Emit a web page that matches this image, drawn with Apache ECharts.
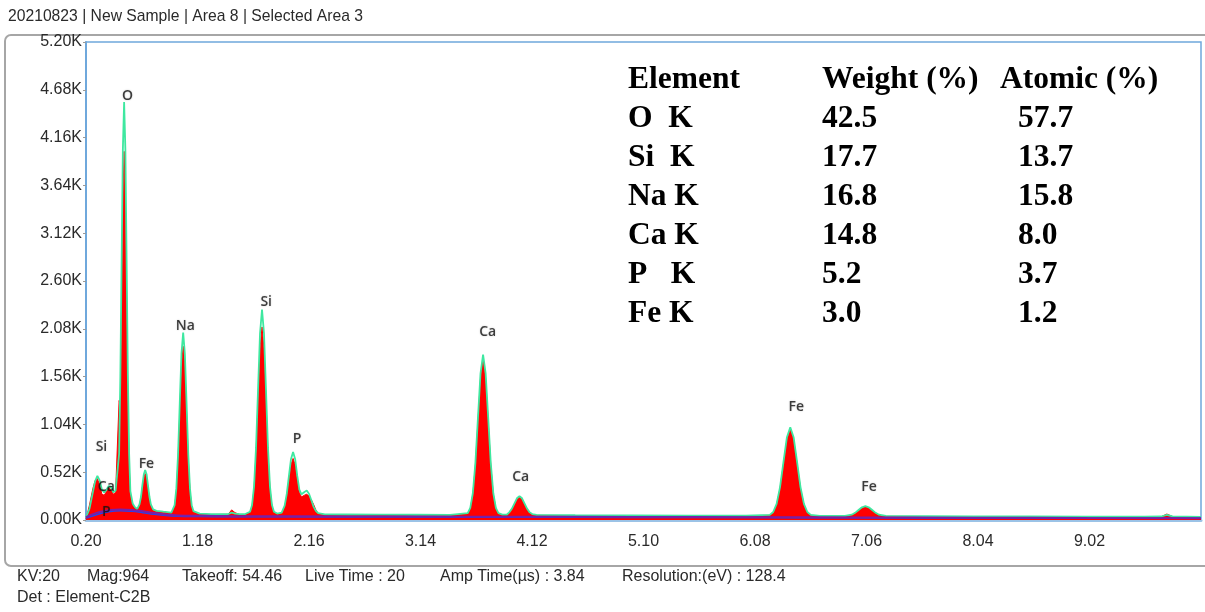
<!DOCTYPE html>
<html>
<head>
<meta charset="utf-8">
<script src="https://cdn.jsdelivr.net/npm/echarts@6/dist/echarts.min.js"></script>
<style>
html,body{margin:0;padding:0;background:#fff;}
#chart{width:1205px;height:612px;}
</style>
</head>
<body>
<div id="chart"></div>
<script>
// ---- DATA ----
const energies = [0.20,0.23,0.26,0.28,0.30,0.32,0.34,0.36,0.38,0.40,0.42,0.44,0.46,0.47,0.491,0.502,0.513,0.524,0.535,0.546,0.557,0.568,0.579,0.59,0.61,0.63,0.65,0.67,0.683,0.695,0.708,0.72,0.733,0.745,0.758,0.77,0.79,0.82,0.88,0.95,0.964,0.979,0.994,1.009,1.024,1.039,1.054,1.069,1.084,1.099,1.114,1.129,1.144,1.20,1.30,1.45,1.48,1.51,1.55,1.60,1.642,1.6595,1.677,1.6945,1.712,1.7295,1.747,1.7645,1.782,1.7995,1.817,1.8345,1.852,1.88,1.92,1.946,1.9645,1.983,2.0015,2.02,2.0385,2.057,2.075,2.094,2.12,2.14,2.16,2.18,2.20,2.22,2.24,2.30,2.50,2.80,3.10,3.40,3.555,3.5775,3.60,3.6225,3.645,3.6675,3.69,3.7125,3.735,3.7575,3.78,3.8025,3.825,3.86,3.90,3.92,3.9425,3.965,3.9875,4.01,4.0325,4.055,4.0775,4.10,4.1225,4.16,4.50,5.00,5.50,6.00,6.21,6.24,6.27,6.30,6.33,6.36,6.39,6.42,6.45,6.48,6.51,6.54,6.57,6.65,6.80,6.87,6.93,6.96,6.99,7.02,7.05,7.08,7.11,7.14,7.17,7.23,7.60,8.00,8.50,9.00,9.50,9.65,9.70,9.75,10.0];
const fitCounts = [30,120,300,420,480,430,330,300,330,370,360,300,320,330,720,1560,2810,4030,4546,4030,2810,1560,720,315,180,140,120,170,250,375,494,545,494,375,250,170,115,100,90,80,97,161,341,713,1267,1809,2040,1809,1267,713,341,161,97,70,65,65,80,70,65,65,90,163,366,787,1414,2029,2290,2029,1414,787,366,163,90,70,80,156,284,474,661,740,661,480,330,280,305,320,286,217,146,99,76,62,60,58,57,55,74,132,291,622,1113,1595,1800,1595,1113,622,291,132,74,58,60,83,122,179,236,260,236,179,122,83,64,55,52,50,48,47,56,87,176,358,630,897,1010,897,630,358,176,87,56,45,45,45,58,78,108,138,150,138,108,78,58,44,42,40,38,37,36,38,55,40,35];
const spectrumCounts = [10,160,340,430,450,380,280,270,310,350,330,280,300,320,1300,1250,2400,3500,4010,3500,2400,1300,620,280,160,130,115,160,235,350,460,505,460,350,235,160,110,95,85,75,92,150,315,660,1175,1680,1890,1680,1175,660,315,150,92,65,60,62,110,80,60,60,85,152,340,725,1300,1865,2100,1865,1300,725,340,152,85,65,75,145,260,430,600,670,600,440,300,250,270,280,260,220,170,110,70,58,56,54,53,51,70,125,280,600,1075,1545,1760,1545,1075,600,280,125,70,54,56,78,115,170,225,248,225,170,115,78,60,51,48,46,44,43,52,82,168,345,610,870,985,870,610,345,168,82,52,41,41,41,54,74,103,132,144,132,103,74,54,40,38,36,34,33,32,36,65,38,30];
const bgEnergies = [0.2,0.3,0.4,0.5,0.6,0.7,0.8,0.9,1.0,1.2,1.5,2.0,3.0,4.0,5.0,6.0,7.0,8.0,9.0,10.0];
const bgPurple = [30,80,105,115,110,95,75,60,50,45,42,40,38,35,33,30,28,25,22,20];
const bgBlue = [20,60,90,100,95,80,62,50,42,38,36,34,32,30,28,26,24,22,20,18];
const xTicks = [0.20,1.18,2.16,3.14,4.12,5.10,6.08,7.06,8.04,9.02];
const peakNames = ['O','Fe','Na','Si','P','Ca','Ca','Fe','Fe','Si','Ca','P'];
const peakE = [0.564,0.731,1.073,1.784,2.056,3.731,4.021,6.442,7.083,0.336,0.378,0.378];
const peakC = [4611,610,2115,2366,883,2049,469,1232,360,796,360,90];
const tableHeader = ['Element','Weight (%)','Atomic (%)'];
const tableElements = ['O  K','Si  K','Na K','Ca K','P   K','Fe K'];
const tableWeights = ['42.5','17.7','16.8','14.8','5.2','3.0'];
const tableAtomics = ['57.7','13.7','15.8','8.0','3.7','1.2'];
const titleText = '20210823 | New Sample | Area 8 | Selected Area 3';
const infoItems = ['KV:20','Mag:964','Takeoff: 54.46','Live Time : 20','Amp Time(µs) : 3.84','Resolution:(eV) : 128.4'];
const detText = 'Det : Element-C2B';

// ---- CHART ----
const chart = echarts.init(document.getElementById('chart'), null, {renderer:'canvas'});
const fitData = energies.map((e,i)=>[e, fitCounts[i]]);
const specData = energies.map((e,i)=>[e, spectrumCounts[i]]);
const purpleData = bgEnergies.map((e,i)=>[e, bgPurple[i]]);
const blueData = bgEnergies.map((e,i)=>[e, bgBlue[i]]);
const labelData = peakNames.map((n,i)=>({name:n, value:[peakE[i], peakC[i]]}));

const sansFont = '"Liberation Sans", Arial, sans-serif';
const graphics = [];
graphics.push({type:'rect', z:-10, silent:true, shape:{x:5,y:35,width:1215,height:531,r:6}, style:{fill:'none', stroke:'#a6a6a6', lineWidth:2}});
graphics.push({type:'text', x:8, y:17, style:{text:titleText, font:'15.7px ' + sansFont, fill:'#2a2a2a', verticalAlign:'middle'}});
const infoX = [17,87,182,305,440,622];
infoItems.forEach((t,i)=>graphics.push({type:'text', x:infoX[i], y:577, style:{text:t, font:'16px ' + sansFont, fill:'#2a2a2a', verticalAlign:'middle'}}));
graphics.push({type:'text', x:17, y:598, style:{text:detText, font:'16px ' + sansFont, fill:'#2a2a2a', verticalAlign:'middle'}});
const colX = [628, 822, 1000];
const valX = [628, 822, 1018];
const tFont = 'bold 31.5px "Liberation Serif"';
tableHeader.forEach((t,i)=>graphics.push({type:'text', x:colX[i], y:80, style:{text:t, font:tFont, fill:'#000', verticalAlign:'middle'}}));
tableElements.forEach((t,r)=>{
  const y = 119 + r*39;
  graphics.push({type:'text', x:valX[0], y:y, style:{text:t, font:tFont, fill:'#000', verticalAlign:'middle'}});
  graphics.push({type:'text', x:valX[1], y:y, style:{text:tableWeights[r], font:tFont, fill:'#000', verticalAlign:'middle'}});
  graphics.push({type:'text', x:valX[2], y:y, style:{text:tableAtomics[r], font:tFont, fill:'#000', verticalAlign:'middle'}});
});

const option = {
  animation:false,
  backgroundColor:'#fff',
  grid:{left:86, right:4, top:42, bottom:92, show:true, borderColor:'#6fa8dc', borderWidth:1.5, backgroundColor:'transparent'},
  xAxis:{
    type:'value', min:0.2, max:10.0,
    axisLine:{show:true, onZero:false, lineStyle:{color:'#9cc3e6', width:3}},
    axisTick:{show:true, customValues:xTicks, length:4, inside:true, lineStyle:{color:'#999'}},
    axisLabel:{customValues:xTicks, formatter:v=>v.toFixed(2), color:'#2a2a2a', fontFamily:'Liberation Sans', fontSize:16, margin:14},
    splitLine:{show:false}
  },
  yAxis:{
    type:'value', min:0, max:5200, interval:520,
    axisLine:{show:true, lineStyle:{color:'#6fa8dc', width:2}},
    axisTick:{show:true, length:3, lineStyle:{color:'#999'}},
    axisLabel:{formatter:v=>(v/1000).toFixed(2)+'K', color:'#2a2a2a', fontFamily:'Liberation Sans', fontSize:16, margin:4},
    splitLine:{show:false}
  },
  graphic:graphics,
  series:[
    {type:'line', data:specData, symbol:'none', z:2, lineStyle:{color:'#ff0000', width:1}, areaStyle:{color:'#ff0000', opacity:1}},
    {type:'line', data:fitData, symbol:'none', z:3, lineStyle:{color:'#3ee8a0', width:1.8}},
    {type:'line', data:blueData, symbol:'none', z:4, smooth:true, lineStyle:{color:'#2244ee', width:1.5}},
    {type:'line', data:purpleData, symbol:'none', z:5, smooth:true, lineStyle:{color:'#7a1fa8', width:2}},
    {type:'scatter', data:labelData, symbolSize:1, z:6, itemStyle:{color:'rgba(0,0,0,0)'},
     label:{show:true, position:'inside', formatter:'{b}', color:'#111', fontFamily:'Open Sans', fontWeight:600, fontSize:14,
            textShadowColor:'rgba(0,0,0,0.25)', textShadowBlur:2}}
  ]
};
chart.setOption(option);
</script>
</body>
</html>
